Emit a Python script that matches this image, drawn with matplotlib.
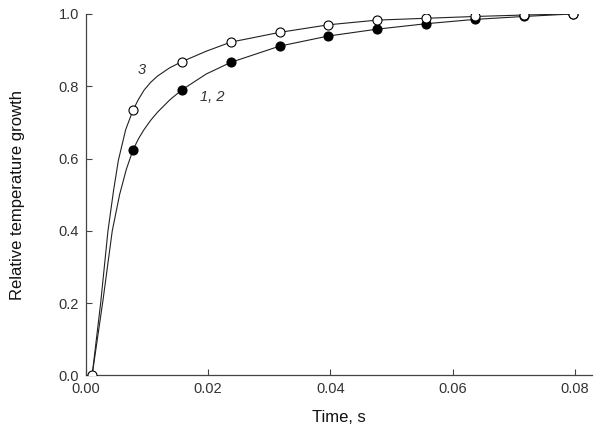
import matplotlib
matplotlib.use("Agg")
import matplotlib.pyplot as plt

plt.rcParams['font.family'] = ['Liberation Sans', 'DejaVu Sans']

# measured points
t_pts = [0.001, 0.0077, 0.0157, 0.0237, 0.0317, 0.0397, 0.0477, 0.0557, 0.0637, 0.0717, 0.0797]
y_12 = [0.0, 0.624, 0.790, 0.866, 0.911, 0.939, 0.958, 0.973, 0.985, 0.993, 1.0]
y_3 = [0.0, 0.734, 0.868, 0.922, 0.949, 0.970, 0.983, 0.988, 0.993, 0.997, 1.0]

# fitted curves
t_fit12 = [0.001, 0.0028, 0.0043, 0.0055, 0.0066, 0.0077, 0.0086, 0.0095, 0.0106, 0.0117, 0.0137,
           0.0157, 0.0197, 0.0237, 0.0317, 0.0397, 0.0477, 0.0557, 0.0637, 0.0717, 0.0797]
y_fit12 = [0.0, 0.21, 0.40, 0.50, 0.57, 0.624, 0.655, 0.68, 0.706, 0.728, 0.762,
           0.790, 0.834, 0.866, 0.911, 0.939, 0.958, 0.973, 0.985, 0.993, 1.0]
t_fit3 = [0.001, 0.0024, 0.0036, 0.0045, 0.0053, 0.0065, 0.0077, 0.0086, 0.0095, 0.0106, 0.0117,
          0.0137, 0.0157, 0.0197, 0.0237, 0.0317, 0.0397, 0.0477, 0.0557, 0.0637, 0.0717, 0.0797]
y_fit3 = [0.0, 0.20, 0.40, 0.51, 0.595, 0.68, 0.734, 0.764, 0.789, 0.811, 0.828,
          0.851, 0.868, 0.897, 0.922, 0.949, 0.970, 0.983, 0.988, 0.993, 0.997, 1.0]

x_ticks = [0.00, 0.02, 0.04, 0.06, 0.08]
y_ticks = [0.0, 0.2, 0.4, 0.6, 0.8, 1.0]

fig = plt.figure(figsize=(6, 4.33), dpi=100)
ax = fig.add_axes([0.1433, 0.1328, 0.843, 0.835])

ax.plot(t_fit12, y_fit12, color='#222222', lw=0.8, zorder=2)
ax.plot(t_fit3, y_fit3, color='#222222', lw=0.8, zorder=2)
ax.plot(t_pts[1:], y_12[1:], 'o', ms=6.5, mfc='black', mec='black', mew=0.8, zorder=3)
ax.plot(t_pts, y_3, 'o', ms=6.5, mfc='white', mec='black', mew=0.8, zorder=4)

ax.text(0.0092, 0.845, '3', fontsize=10.5, style='italic', ha='center', va='center', color='#333333')
ax.text(0.0207, 0.771, '1, 2', fontsize=10.5, style='italic', ha='center', va='center', color='#333333')

ax.set_xlim(0, 0.0828)
ax.set_ylim(0, 1.0)
ax.set_xticks(x_ticks)
ax.set_yticks(y_ticks)
ax.set_xticklabels(['%.2f' % v for v in x_ticks])
ax.set_yticklabels(['%.1f' % v for v in y_ticks])
ax.tick_params(direction='in', length=4, width=0.8, color='#444444', labelsize=10.5,
               labelcolor='#333333', pad=5)

for s in ['top', 'right']:
    ax.spines[s].set_visible(False)
for s in ['left', 'bottom']:
    ax.spines[s].set_color('#444444')
    ax.spines[s].set_linewidth(0.9)

ax.set_xlabel('Time, s', fontsize=12, color='#111111', labelpad=10)
ax.set_ylabel('Relative temperature growth', fontsize=12, color='#111111', labelpad=24)

fig.savefig('out.png', dpi=100)
